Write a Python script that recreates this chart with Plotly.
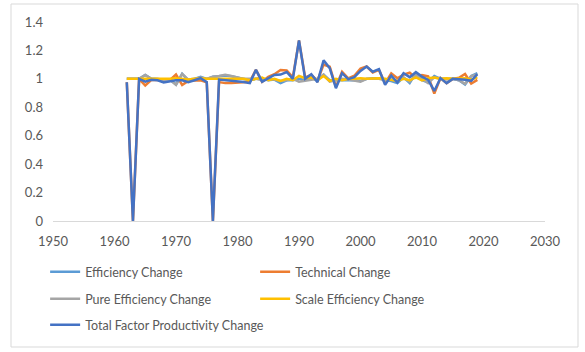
import plotly.graph_objects as go

years = list(range(1962, 2020))

efficiency_change = [1.0, 1.0, 1.0, 1.028, 1.0, 0.998, 0.985, 0.995, 0.96, 1.035, 0.99, 1.0, 1.015, 1.0, 1.015, 1.018, 1.023, 1.018, 1.01, 1.0, 0.99,
                     1.0, 1.0, 0.99, 0.995, 0.97, 0.99, 0.99, 1.0, 0.99, 1.005, 0.99, 1.03, 0.99, 0.99, 0.99, 0.995, 0.99, 0.985, 1.0, 1.005,
                     1.005, 0.99, 0.985, 0.97, 1.01, 0.97, 1.04, 0.99, 0.975, 1.02, 1.0, 1.0, 1.0, 0.99, 0.96, 1.02, 1.04]
technical_change = [0.976, 0.0, 1.0, 0.953, 0.993, 0.992, 0.99, 0.99, 1.03, 0.957, 0.986, 0.99, 0.99, 0.976, 0.0, 0.977, 0.97, 0.97, 0.974, 0.978, 0.98,
                    1.063, 0.98, 1.015, 1.033, 1.062, 1.059, 1.01, 1.27, 1.01, 1.028, 0.987, 1.1, 1.085, 0.943, 1.05, 1.003, 1.022, 1.072, 1.087, 1.045,
                    1.063, 0.968, 1.039, 1.004, 1.03, 1.043, 1.007, 1.026, 1.018, 0.897, 1.005, 0.97, 1.0, 1.008, 1.034, 0.967, 0.993]
pure_efficiency_change = [1.0, 1.0, 1.0, 1.028, 1.0, 1.0, 0.99, 0.995, 0.958, 1.035, 0.995, 1.0, 1.01, 1.0, 1.015, 1.02, 1.028, 1.02, 1.01, 1.0, 1.0,
                          1.0, 0.99, 1.0, 0.995, 0.985, 0.99, 1.0, 0.98, 0.985, 0.995, 1.0, 1.03, 0.98, 0.99, 1.0, 0.995, 0.99, 0.98, 1.0, 1.0,
                          1.0, 0.99, 0.995, 0.985, 1.01, 0.98, 1.03, 1.0, 0.97, 1.01, 1.0, 0.995, 1.0, 0.99, 0.965, 1.02, 1.03]
scale_efficiency_change = [1.0, 1.0, 1.0, 1.0, 1.0, 0.998, 0.995, 1.0, 1.005, 1.0, 0.995, 1.0, 1.005, 1.0, 1.0, 0.998, 0.995, 0.998, 1.0, 1.0, 0.99,
                           1.0, 1.01, 0.99, 1.0, 0.985, 1.0, 0.99, 1.02, 1.005, 1.01, 0.99, 1.02, 0.985, 1.0, 0.99, 1.0, 1.0, 1.005, 1.0, 1.005,
                           1.005, 1.0, 0.99, 0.985, 1.0, 0.99, 1.01, 0.99, 1.005, 1.01, 1.0, 1.005, 1.0, 1.0, 1.005, 0.995, 1.01]
tfp_change = [0.976, 0.0, 1.0, 0.98, 0.993, 0.99, 0.975, 0.985, 0.99, 0.99, 0.976, 0.99, 1.005, 0.976, 0.0, 0.995, 0.992, 0.988, 0.984, 0.978, 0.97,
              1.063, 0.98, 1.005, 1.028, 1.03, 1.048, 1.0, 1.27, 1.0, 1.033, 0.977, 1.13, 1.075, 0.934, 1.04, 0.998, 1.012, 1.056, 1.087, 1.05,
              1.068, 0.958, 1.023, 0.974, 1.04, 1.012, 1.047, 1.016, 0.993, 0.915, 1.005, 0.97, 1.0, 0.998, 0.993, 0.986, 1.033]

series = [
    ("Efficiency Change", efficiency_change, "#5B9BD5", "legend"),
    ("Technical Change", technical_change, "#ED7D31", "legend"),
    ("Pure Efficiency Change", pure_efficiency_change, "#A5A5A5", "legend2"),
    ("Scale Efficiency Change", scale_efficiency_change, "#FFC000", "legend2"),
    ("Total Factor Productivity Change", tfp_change, "#4472C4", "legend3"),
]

fig = go.Figure()
for name, vals, color, lg in series:
    fig.add_trace(go.Scatter(x=years, y=vals, mode="lines", name=name, legend=lg,
                             line=dict(color=color, width=2.5)))

font = "Lato"
legend_common = dict(orientation="h", xanchor="left", yanchor="middle",
                     entrywidthmode="pixels",
                     font=dict(size=12.5, color="#595959"), bgcolor="rgba(0,0,0,0)")
fig.update_layout(
    width=585, height=352,
    margin=dict(l=53, r=40, t=22, b=131),
    paper_bgcolor="white", plot_bgcolor="white",
    font=dict(family=font, size=13, color="#595959"),
    xaxis=dict(range=[1950, 2030], dtick=10, tick0=1950, showgrid=False, zeroline=False,
               showline=True, linecolor="#D9D9D9", linewidth=1, ticks="",
               ticklabelstandoff=8, tickfont=dict(size=13, color="#595959")),
    yaxis=dict(range=[0, 1.4], dtick=0.2, showgrid=False, zeroline=False,
               showline=False, ticks="", ticklabelstandoff=9,
               tickfont=dict(size=13, color="#595959")),
    legend=dict(x=-0.016, y=(221 - 272) / 199, entrywidth=165, **legend_common),
    legend2=dict(x=-0.016, y=(221 - 299) / 199, entrywidth=165, **legend_common),
    legend3=dict(x=-0.016, y=(221 - 325) / 199, entrywidth=260, **legend_common),
    shapes=[dict(type="rect", xref="paper", yref="paper",
                 x0=(11 - 53) / 492, x1=(578 - 53) / 492,
                 y0=(221 - 347) / 199, y1=(221 - 4) / 199,
                 line=dict(color="#D9D9D9", width=1), fillcolor="rgba(0,0,0,0)", layer="below")],
)

fig.write_html("out.html")
